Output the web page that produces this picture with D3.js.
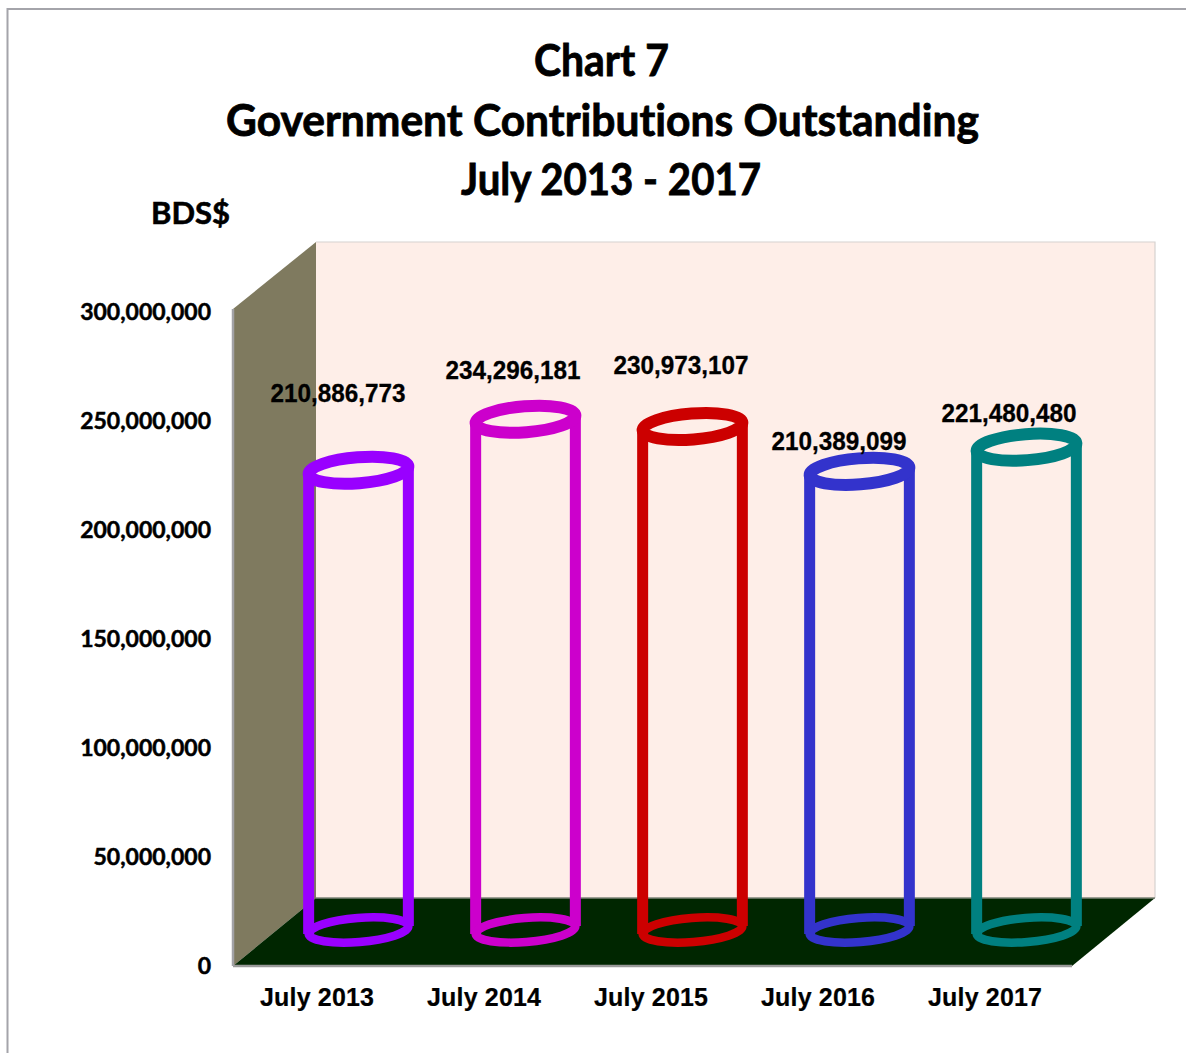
<!DOCTYPE html>
<html>
<head>
<meta charset="utf-8">
<script src="https://cdn.jsdelivr.net/npm/d3@7"></script>
<style>
html,body{margin:0;padding:0;background:#fff;overflow:hidden}
svg{display:block}
text{font-variant-ligatures:none;fill:#000;stroke:#000;paint-order:stroke}
</style>
</head>
<body>
<svg id="chart" width="1186" height="1053"></svg>
<script>
const categories = ["July 2013","July 2014","July 2015","July 2016","July 2017"];
const values = [210886773,234296181,230973107,210389099,221480480];
const colors = ["#9900ff","#cc00cc","#cc0000","#3333cc","#008080"];
const yTicks = [0,50000000,100000000,150000000,200000000,250000000,300000000];
const titleLines = ["Chart 7","Government Contributions Outstanding","July 2013 - 2017"];
const titleCenters = [601.5,602.5,611];
const titleWidths = [135,753,300];
const titleBaselines = [76,136,195];

const svg = d3.select("#chart");
const W = 1186, H = 1053;
const sans = "Lato, sans-serif";
const arial = "'Liberation Sans', Arial, sans-serif";

// Box geometry: front plane of the floor and the receding back wall
const front = {x0:233, x1:1072, y0:966};
const back  = {x0:316, x1:1155, y0:898, top:242};
const frontTop = 309;

const y = d3.scaleLinear().domain([0,300000000]).range([966,312]);
const x = d3.scaleBand().domain(categories).range([275,1110]);
const baseY = 930;
const rx = 50, ry = 13, tilt = -4.5;

// Outer frame
svg.append("path").attr("d",`M7.5,${H} V9 H${W}`)
  .attr("fill","none").attr("stroke","#a4a4aa").attr("stroke-width",2);

// Walls and floor
const poly = (pts,fill) => svg.append("polygon").attr("points",pts.map(p=>p.join(",")).join(" ")).attr("fill",fill);
poly([[back.x0,back.top],[back.x1,back.top],[back.x1,back.y0],[back.x0,back.y0]],"#feeee8");
svg.append("path").attr("d",`M${back.x0},${back.top} H${back.x1} V${back.y0}`)
  .attr("fill","none").attr("stroke","#d6d2d0").attr("stroke-width",1.2);
poly([[front.x0,frontTop],[back.x0,back.top],[back.x0,back.y0],[front.x0,front.y0]],"#7f7a5f");
poly([[front.x0,front.y0],[back.x0,back.y0],[back.x1,back.y0],[front.x1,front.y0]],"#002600");
svg.append("line").attr("x1",back.x0).attr("x2",back.x1).attr("y1",back.y0).attr("y2",back.y0)
  .attr("stroke","#7d8579").attr("stroke-width",1.5);
svg.append("line").attr("x1",front.x0).attr("x2",front.x1).attr("y1",front.y0).attr("y2",front.y0)
  .attr("stroke","#9a9a9a").attr("stroke-width",2.5);
svg.append("line").attr("x1",front.x0).attr("x2",front.x0).attr("y1",frontTop).attr("y2",front.y0)
  .attr("stroke","#a2a2a6").attr("stroke-width",2.5);

// Wireframe cylinders
const g = svg.selectAll("g.cyl").data(categories.map((c,i)=>({c,v:values[i],col:colors[i]})))
  .enter().append("g").attr("class","cyl");

const rad = tilt*Math.PI/180;
const dxTip = rx*Math.cos(rad), dyTip = rx*Math.sin(rad);

g.each(function(d){
  const sel = d3.select(this);
  const cx = x(d.c) + x.bandwidth()/2;
  const topY = baseY - (y(0) - y(d.v));
  sel.append("path")
    .attr("d",`M${cx-dxTip},${topY-dyTip} L${cx-dxTip},${baseY-dyTip} M${cx+dxTip},${topY+dyTip} L${cx+dxTip},${baseY+dyTip}`)
    .attr("fill","none").attr("stroke",d.col).attr("stroke-width",11);
  [topY,baseY].forEach(cy=>{
    sel.append("ellipse").attr("cx",cx).attr("cy",cy).attr("rx",rx).attr("ry",cy===baseY?12:ry)
      .attr("transform",`rotate(${tilt} ${cx} ${cy})`)
      .attr("fill","none").attr("stroke",d.col).attr("stroke-width",cy===baseY?8.5:12);
  });
});

// Data labels
const labelPos = [[338,402],[513,379],[681,374],[839,450],[1009,422]];
svg.selectAll("text.val").data(values).enter().append("text").attr("class","val")
  .attr("x",(d,i)=>labelPos[i][0]).attr("y",(d,i)=>labelPos[i][1])
  .attr("text-anchor","middle").attr("stroke-width",0.3)
  .attr("font-family",arial).attr("font-weight",700).attr("font-size",25.5)
  .attr("textLength",135).attr("lengthAdjust","spacingAndGlyphs")
  .text(d=>d3.format(",")(d));

// Value axis labels
svg.selectAll("text.tick").data(yTicks).enter().append("text").attr("class","tick")
  .attr("x",211).attr("y",d=>y(d)+7.5).attr("text-anchor","end").attr("stroke-width",0.5)
  .attr("font-family",sans).attr("font-weight",700).attr("font-size",23)
  .text(d=>d3.format(",")(d));

// Category axis labels
svg.selectAll("text.cat").data(categories).enter().append("text").attr("class","cat")
  .attr("x",(d,i)=>317+i*167).attr("y",1006).attr("text-anchor","middle").attr("stroke-width",0.2)
  .attr("font-family",arial).attr("font-weight",700).attr("font-size",25)
  .attr("textLength",114)
  .text(d=>d);

// Title block
svg.selectAll("text.title").data(titleLines).enter().append("text").attr("class","title")
  .attr("x",(d,i)=>titleCenters[i]).attr("y",(d,i)=>titleBaselines[i]).attr("text-anchor","middle")
  .attr("font-family",sans).attr("font-weight",700).attr("font-size",43).attr("stroke-width",0.8)
  .attr("textLength",(d,i)=>titleWidths[i]).attr("lengthAdjust","spacingAndGlyphs")
  .text(d=>d);

svg.append("text").attr("x",190.5).attr("y",224).attr("text-anchor","middle").attr("stroke-width",0.6)
  .attr("font-family",sans).attr("font-weight",700).attr("font-size",31).text("BDS$");
</script>
</body>
</html>
